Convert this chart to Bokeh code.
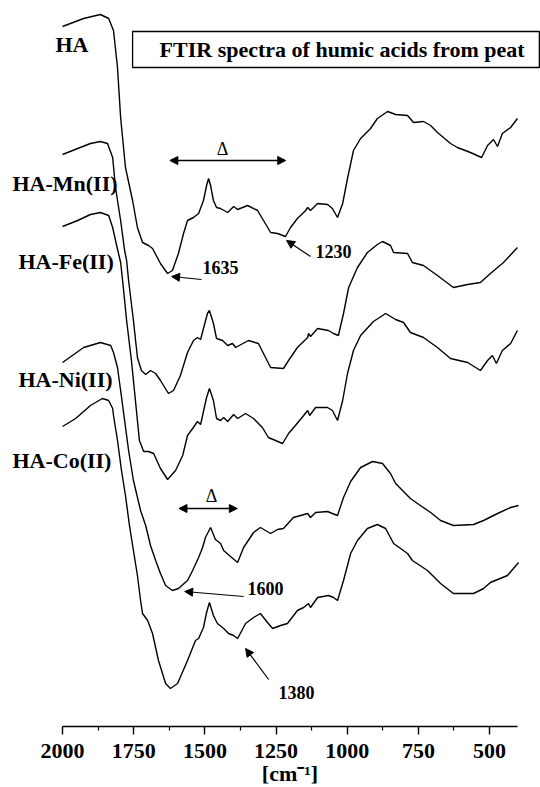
from bokeh.plotting import figure
from bokeh.models import Range1d, FixedTicker, Label, Arrow, NormalHead, BoxAnnotation
from bokeh.embed import file_html
from bokeh.resources import INLINE

# ---- data: (wavenumber cm-1, offset transmittance a.u.) ----
HA = [(2000,700),(1926,708),(1867,712),(1838,708),(1821,696),(1807,659),(1796,609),(1779,559),
      (1754,526),(1737,499),(1719,484),(1698,481),(1684,478),(1656,463),(1631,453),(1614,456),
      (1593,473),(1575,493),(1561,506),(1540,509),(1522,513),(1505,526),(1494,541),(1487,548),
      (1480,541),(1470,526),(1459,519),(1445,518),(1420,514),(1399,520),(1385,517),(1350,521),
      (1315,516),(1294,506),(1269,494),(1245,493),(1217,490),(1199,499),(1175,508),(1146,516),
      (1139,519),(1129,516),(1104,523),(1069,522),(1052,518),(1034,509),(1016,523),(999,548),
      (978,576),(953,588),(918,598),(894,608),(858,615),(830,612),(788,611),(767,604),(732,605),
      (707,601),(683,594),(637,583),(613,579),(567,574),(528,569),(507,581),(486,587),(472,580),
      (455,593),(426,599),(402,608)]

HA_MN = [(2000,572),(1947,578),(1902,583),(1867,585),(1842,583),(1824,569),(1814,539),(1796,506),
         (1782,476),(1775,466),(1768,446),(1751,406),(1737,369),(1723,356),(1708,352),(1691,356),
         (1673,353),(1656,346),(1628,333),(1610,336),(1586,351),(1561,374),(1540,386),(1526,389),
         (1515,387),(1505,398),(1491,413),(1484,416),(1470,403),(1459,388),(1438,386),(1420,381),
         (1403,383),(1392,379),(1347,386),(1312,383),(1287,369),(1269,359),(1224,358),(1206,366),
         (1175,379),(1139,389),(1136,393),(1129,390),(1104,398),(1066,396),(1048,393),(1031,391),
         (1013,413),(995,439),(964,459),(929,474),(894,482),(876,485),(848,481),(837,474),(788,473),
         (771,464),(732,461),(683,451),(627,439),(577,442),(532,444),(497,453),(451,464),(402,479)]

HA_FE = [(2000,500),(1947,506),(1902,512),(1867,514),(1838,511),(1824,499),(1810,481),(1796,464),
         (1789,446),(1775,406),(1758,366),(1744,326),(1730,286),(1715,275),(1698,275),(1680,273),
         (1656,258),(1631,247),(1603,256),(1578,271),(1561,291),(1543,298),(1526,305),(1515,302),
         (1505,315),(1494,329),(1484,338),(1470,326),(1459,308),(1445,306),(1434,309),(1420,305),
         (1399,312),(1385,308),(1357,313),(1329,308),(1298,299),(1277,289),(1252,286),(1227,283),
         (1206,293),(1182,301),(1153,311),(1139,316),(1132,311),(1111,319),(1069,319),(1052,316),
         (1034,306),(1016,326),(999,353),(978,376),(953,391),(908,405),(865,413),(830,407),(802,404),
         (778,394),(732,389),(683,379),(637,368),(577,364),(532,356),(507,366),(490,371),(476,363),
         (455,376),(426,383),(402,396)]

HA_NI = [(2000,364),(1926,379),(1867,384),(1831,381),(1821,374),(1807,359),(1796,336),(1782,306),
         (1768,276),(1751,246),(1726,216),(1708,201),(1691,181),(1673,166),(1656,153),(1638,141),
         (1614,136),(1593,138),(1561,146),(1543,156),(1522,169),(1508,179),(1498,189),(1480,199),
         (1463,187),(1445,183),(1434,176),(1410,170),(1385,164),(1364,179),(1329,194),(1305,199),
         (1287,196),(1269,193),(1245,197),(1224,198),(1189,209),(1164,211),(1139,213),(1129,209),
         (1111,214),(1069,215),(1052,213),(1034,211),(1013,229),(988,245),(953,259),(911,265),
         (876,263),(848,253),(830,243),(778,228),(743,221),(707,214),(672,206),(627,201),(556,202),
         (521,206),(472,213),(426,219),(398,221)]

HA_CO = [(2000,300),(1954,308),(1902,321),(1860,328),(1838,326),(1824,318),(1821,311),(1807,286),
         (1793,256),(1779,231),(1765,201),(1751,176),(1737,151),(1726,126),(1719,113),(1701,106),
         (1684,93),(1663,66),(1638,43),(1621,38),(1596,43),(1561,66),(1533,86),(1522,88),(1505,99),
         (1494,114),(1484,124),(1470,111),(1456,103),(1434,98),(1417,93),(1399,91),(1385,88),
         (1357,103),(1329,109),(1305,113),(1280,104),(1262,98),(1234,101),(1210,103),(1175,116),
         (1153,119),(1136,123),(1129,119),(1104,129),(1066,131),(1048,129),(1034,126),(1013,146),
         (988,173),(964,186),(929,198),(894,202),(865,198),(837,183),(788,173),(771,166),(718,156),
         (672,143),(627,133),(556,133),(521,138),(497,144),(437,151),(398,164)]

SERIES = [HA, HA_MN, HA_FE, HA_NI, HA_CO]
SERIES_NAMES = ["HA", "HA-Mn(II)", "HA-Fe(II)", "HA-Ni(II)", "HA-Co(II)"]

MAJOR_TICKS = [2000, 1750, 1500, 1250, 1000, 750, 500]
MINOR_TICKS = [1875, 1625, 1375, 1125, 875, 625]
TICK_LABELS = {t: str(t) for t in MAJOR_TICKS}

FONT = "Liberation Serif"

p = figure(width=540, height=787, output_backend="svg", toolbar_location=None,
           x_range=Range1d(2218, 321), y_range=Range1d(-61, 726), min_border=0)
p.outline_line_color = None
p.xgrid.visible = False
p.ygrid.visible = False
p.yaxis.visible = False
p.background_fill_color = "white"
p.border_fill_color = "white"

ax = p.xaxis[0]
ax.fixed_location = 0
ax.bounds = (402, 2000)
ax.ticker = FixedTicker(ticks=MAJOR_TICKS, minor_ticks=MINOR_TICKS)
ax.major_label_overrides = TICK_LABELS
ax.axis_line_width = 1.4
ax.major_tick_line_width = 1.4
ax.minor_tick_line_width = 1.2
ax.major_tick_in = 0
ax.major_tick_out = 8
ax.minor_tick_in = 0
ax.minor_tick_out = 4
ax.major_label_standoff = 9
ax.major_label_text_font = FONT
ax.major_label_text_font_style = "bold"
ax.major_label_text_font_size = "22px"
ax.major_label_text_color = "black"
ax.axis_label = "[cm\u207b\u00b9]"
ax.axis_label_text_font = FONT
ax.axis_label_text_font_style = "bold"
ax.axis_label_text_font_size = "22px"
ax.axis_label_standoff = 0
ax.axis_label_text_color = "black"

for s in SERIES:
    xs = [a for a, b in s]
    ys = [b for a, b in s]
    p.line(xs, ys, line_color="black", line_width=1.4)

# curve labels
label_pos = [(2025, 682), (2176, 543), (2155, 465), (2155, 347), (2176, 266)]
for name, (lx, ly) in zip(SERIES_NAMES, label_pos):
    p.add_layout(Label(x=lx, y=ly, text=name, text_font=FONT, text_font_style="bold",
                       text_font_size="22px", text_align="left", text_baseline="middle",
                       text_color="black"))

# title box
p.add_layout(BoxAnnotation(left=1754, right=325, bottom=659, top=695, fill_alpha=0,
                           line_color="black", line_width=1.3, line_alpha=1))
p.add_layout(Label(x=1018, y=677, text="FTIR spectra of humic acids from peat", text_font=FONT,
                   text_font_style="bold", text_font_size="22px", text_align="center",
                   text_baseline="middle", text_color="black"))

def head():
    return NormalHead(size=8, fill_color="black", line_color="black", line_width=1)

# delta double arrows
p.add_layout(Arrow(start=head(), end=head(), x_start=1623, y_start=566, x_end=1216, y_end=566,
                   line_width=1.3, line_color="black"))
p.add_layout(Label(x=1438, y=578, text="\u0394", text_font=FONT, text_font_size="18px",
                   text_align="center", text_baseline="middle", text_color="black"))
p.add_layout(Arrow(start=head(), end=head(), x_start=1591, y_start=218, x_end=1386, y_end=218,
                   line_width=1.3, line_color="black"))
p.add_layout(Label(x=1477, y=231, text="\u0394", text_font=FONT, text_font_size="18px",
                   text_align="center", text_baseline="middle", text_color="black"))

# band annotations: (text, text x, text y, arrow from, arrow to)
notes = [("1635", 1508, 459, (1512, 447), (1617, 450)),
         ("1230", 1111, 475, (1129, 470), (1213, 486)),
         ("1600", 1350, 138, (1364, 130), (1571, 135)),
         ("1380", 1241, 34, (1276, 47), (1357, 78))]
for txt, tx, ty, a0, a1 in notes:
    p.add_layout(Label(x=tx, y=ty, text=txt, text_font=FONT, text_font_style="bold",
                       text_font_size="18px", text_align="left", text_baseline="middle",
                       text_color="black"))
    p.add_layout(Arrow(end=head(), x_start=a0[0], y_start=a0[1], x_end=a1[0], y_end=a1[1],
                       line_width=1.2, line_color="black"))

open("out.html", "w").write(file_html(p, INLINE))
